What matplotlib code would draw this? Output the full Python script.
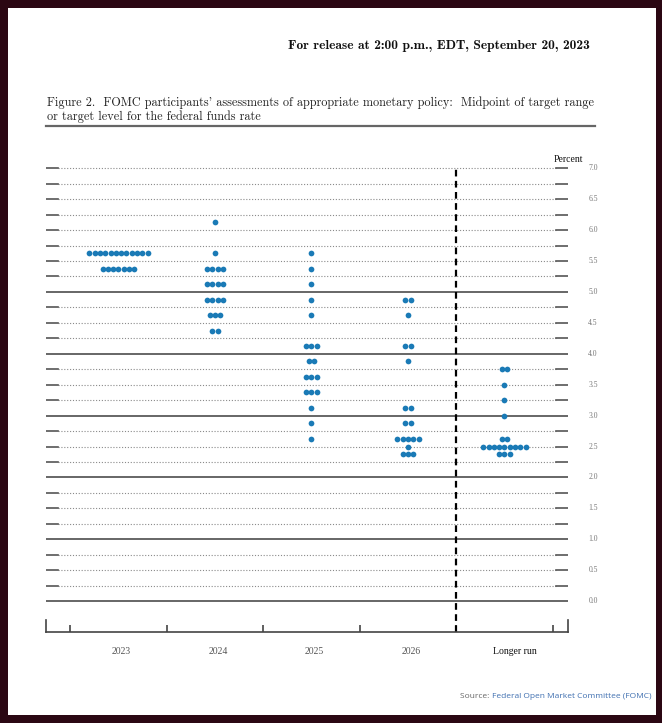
import numpy as np
import matplotlib.pyplot as plt
import matplotlib.transforms as mtransforms
from matplotlib.patches import Rectangle
from matplotlib.lines import Line2D

# Dot plot data: midpoint of target range and number of participants
categories = ['2023', '2024', '2025', '2026', 'Longer run']
rates_2023 = [5.625, 5.375]
count_2023 = [12, 7]
rates_2024 = [6.125, 5.625, 5.375, 5.125, 4.875, 4.625, 4.375]
count_2024 = [1, 1, 4, 4, 4, 3, 2]
rates_2025 = [5.625, 5.375, 5.125, 4.875, 4.625, 4.125, 3.875, 3.625, 3.375, 3.125, 2.875, 2.625]
count_2025 = [1, 1, 1, 1, 1, 3, 2, 3, 3, 1, 1, 1]
rates_2026 = [4.875, 4.625, 4.125, 3.875, 3.125, 2.875, 2.625, 2.5, 2.375]
count_2026 = [2, 1, 2, 1, 2, 2, 5, 1, 3]
rates_lr = [3.75, 3.5, 3.25, 3.0, 2.625, 2.5, 2.375]
count_lr = [2, 1, 1, 1, 2, 9, 3]

all_rates = [rates_2023, rates_2024, rates_2025, rates_2026, rates_lr]
all_counts = [count_2023, count_2024, count_2025, count_2026, count_lr]

W, H = 662, 723
DOT = '#1a7ab6'

fig = plt.figure(figsize=(W / 100, H / 100), dpi=100, facecolor='#2b0713')
fig.add_artist(Rectangle((8 / W, 1 - 715 / H), (656 - 8) / W, (715 - 8) / H,
                         transform=fig.transFigure, facecolor='white',
                         edgecolor='none', zorder=-1))

ax = fig.add_axes([46 / W, 1 - 632 / H, (568 - 46) / W, (632 - 160) / H])
ax.patch.set_visible(False)
ax.set_xlim(-0.751, 4.658)
ax.set_ylim(-0.5, 7.134)

# horizontal guide lines every quarter point
for v in np.arange(0, 7.01, 0.25):
    if v == int(v) and v <= 5:
        ax.axhline(v, 0, 1, color='#5a5a5a', lw=1.3, zorder=1)
    else:
        ax.axhline(v, 0.023, 0.977, color='#8a8a8a', lw=0.8,
                   linestyle=(0, (1, 1.6)), zorder=1)
        ax.axhline(v, 0, 0.023, color='#555555', lw=1.2, zorder=1)
        ax.axhline(v, 0.977, 1, color='#555555', lw=1.2, zorder=1)

# dots
step = 0.055
for i, (rates, counts) in enumerate(zip(all_rates, all_counts)):
    for r, n in zip(rates, counts):
        xs = i + (np.arange(n) - (n - 1) / 2) * step
        ax.scatter(xs, [r] * n, s=17, color=DOT, linewidths=0, zorder=3)

ax.vlines(3.5, -0.5, 7.0, colors='black', linestyles=(0, (3, 2)), lw=1.6, zorder=2)

# bottom axis
ax.spines['top'].set_visible(False)
for s in ['left', 'right', 'bottom']:
    ax.spines[s].set_color('#444444')
    ax.spines[s].set_linewidth(1.2)
ax.spines['left'].set_bounds(-0.5, -0.31)
ax.spines['right'].set_bounds(-0.5, -0.31)
ax.set_yticks([])
ax.set_xticks([-0.5, 0.5, 1.5, 2.5, 3.5, 4.5])
ax.set_xticklabels([])
ax.tick_params(axis='x', direction='in', length=5, width=1.2, color='#444444')

for i, lab in enumerate(categories):
    dx = 10 if lab == 'Longer run' else 3
    ax.annotate(lab, xy=(i, -0.5), xytext=(dx, -20), textcoords='offset pixels',
                ha='center', va='center', fontsize=7,
                family='Liberation Serif', color='#111111' if lab == 'Longer run' else '#555555')

# right side percent labels
trans = mtransforms.blended_transform_factory(ax.transAxes, ax.transData)
for v in np.arange(0, 7.01, 0.5):
    ax.text(1.048, v, f'{v:.1f}', transform=trans, ha='center', va='center',
            fontsize=5.5, color='#777777', family='Liberation Serif')
fig.text(568 / W, 1 - 160 / H, 'Percent', ha='center', va='center',
         fontsize=7, family='Liberation Serif', color='#111111')

# headers
fig.text(590 / W, 1 - 46 / H, 'For release at 2:00 p.m., EDT, September 20, 2023',
         ha='right', va='center', fontsize=9.7, family=['cmb10', 'DejaVu Serif'], color='#111111')
title_font = ['cmr10', 'DejaVu Serif']
fig.text(47 / W, 1 - 103 / H,
         "Figure 2.  FOMC participants' assessments of appropriate monetary policy:  Midpoint of target range",
         ha='left', va='center', fontsize=8.8, family=title_font, color='#222222')
fig.text(47 / W, 1 - 117 / H, 'or target level for the federal funds rate',
         ha='left', va='center', fontsize=8.8, family=title_font, color='#222222')
fig.add_artist(Line2D([46 / W, 595 / W], [1 - 126 / H, 1 - 126 / H],
                      lw=1.6, color='#666666', transform=fig.transFigure))

src = fig.text(651 / W, 1 - 696 / H, 'Federal Open Market Committee (FOMC)',
               ha='right', va='center', fontsize=6, family='Open Sans', color='#3f6fb0')
fig.add_artist(plt.Annotation('Source: ', xy=(0, 0.5), xycoords=src, ha='right',
                              va='center', fontsize=6, family='Open Sans', color='#666666'))

fig.savefig('out.png', dpi=100, facecolor=fig.get_facecolor())
